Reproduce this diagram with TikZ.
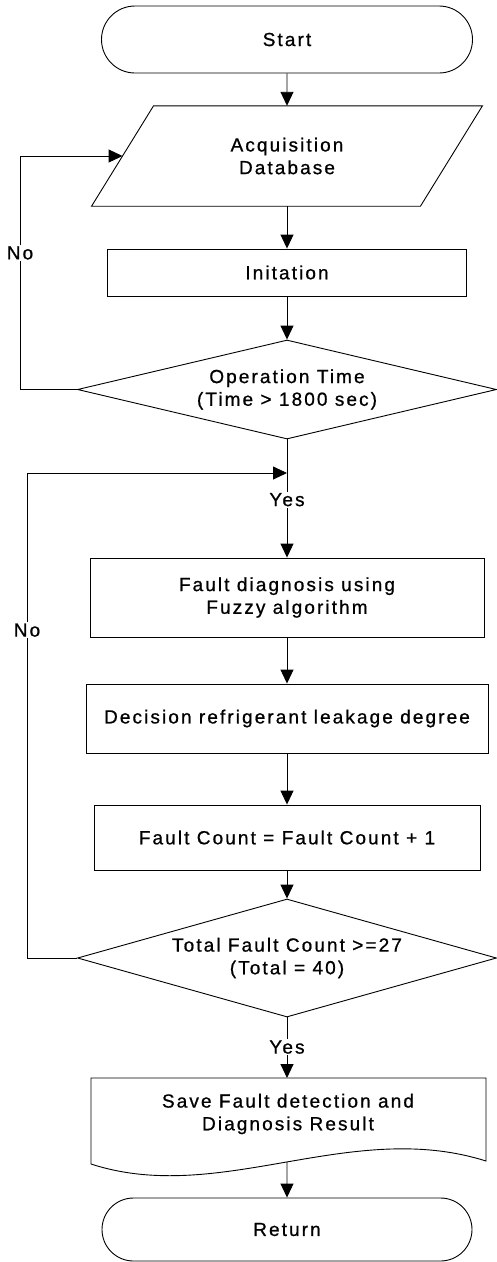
\documentclass[tikz,border=0pt]{standalone}
\usepackage{fontspec}
\setmainfont{Liberation Sans}[LetterSpace=11,FakeBold=0.8]
\usetikzlibrary{shapes.geometric,shapes.misc,arrows.meta}
\newcommand{\fcfont}{\fontsize{19pt}{22.7pt}\selectfont}
\begin{document}
\begin{tikzpicture}[x=1pt,y=-1pt,
  every node/.style={font=\fcfont, align=center},
  term/.style={draw, rounded rectangle, line width=0.9pt, inner sep=0pt},
  proc/.style={draw, rectangle, line width=0.9pt, inner sep=0pt},
  dec/.style={draw, diamond, aspect=4, line width=0.9pt, inner sep=0pt},
  plain/.style={inner sep=0pt},
  lbl/.style={fill=white, inner sep=1.5pt},
  arr/.style={-{Triangle[length=14pt,width=13pt]}, line width=0.9pt},
  edge/.style={line width=0.9pt}]
\useasboundingbox (0,0) rectangle (497,1262);

% nodes
\node[term, minimum width=371pt, minimum height=67pt] (start) at (287,39.5) {Start};
\node[plain, minimum width=328.5pt, minimum height=100pt] (acq) at (287,156) {Acquisition\\Database};
\draw[edge] ([xshift=31pt]acq.north west) -- ([xshift=31pt]acq.north east)
  -- ([xshift=-31pt]acq.south east) -- ([xshift=-31pt]acq.south west) -- cycle;
\node[proc, minimum width=359pt, minimum height=47pt] (init) at (287,272.5) {Initation};
\node[dec, minimum width=419pt, minimum height=99pt] (dec1) at (287,389.5) {Operation Time\\(Time > 1800 sec)};
\node[proc, minimum width=394pt, minimum height=79pt] (fd) at (287,597.5) {Fault diagnosis using\\Fuzzy algorithm};
\node[proc, minimum width=402pt, minimum height=69pt] (decide) at (287,718.5) {Decision refrigerant leakage degree};
\node[proc, minimum width=386pt, minimum height=65pt] (count) at (287,837.5) {Fault Count = Fault Count + 1};
\node[dec, minimum width=419pt, minimum height=118pt] (dec2) at (287,958) {Total Fault Count >=27\\(Total = 40)};
\node[plain] (save) at (288,1114) {Save Fault detection and\\Diagnosis Result};
\coordinate (saveT) at (287,1078);
\coordinate (saveB) at (287,1162);
\draw[edge] (91,1078) -- (486,1078) -- (486,1161)
  .. controls (350,1118) and (220,1206) .. (91,1164) -- cycle;
\node[term, minimum width=370pt, minimum height=63pt] (ret) at (287,1229.5) {Return};

% loop coordinates
\coordinate (n1b) at (20,389.5);
\coordinate (n1t) at (20,156);
\coordinate (n2b) at (27,958);
\coordinate (n2t) at (27,473);
\coordinate (join) at (287,473);

% connectors
\draw[arr] (start) -- (acq);
\draw[arr] (acq) -- (init);
\draw[arr] (init) -- (dec1);
\draw[arr] (dec1.west) -- (n1b) -- node[lbl, pos=0.585] {No} (n1t) -- (acq.west);
\draw[arr] (dec1.south) -- node[lbl, pos=0.51] {Yes} (fd.north);
\draw[arr] (dec2.west) -- (n2b) -- node[lbl, pos=0.676] {No} (n2t) -- (join);
\draw[arr] (fd) -- (decide);
\draw[arr] (decide) -- (count);
\draw[arr] (count) -- (dec2);
\draw[arr] (dec2.south) -- node[lbl, pos=0.49] {Yes} (saveT);
\draw[arr] (saveB) -- (ret);
\end{tikzpicture}
\end{document}
